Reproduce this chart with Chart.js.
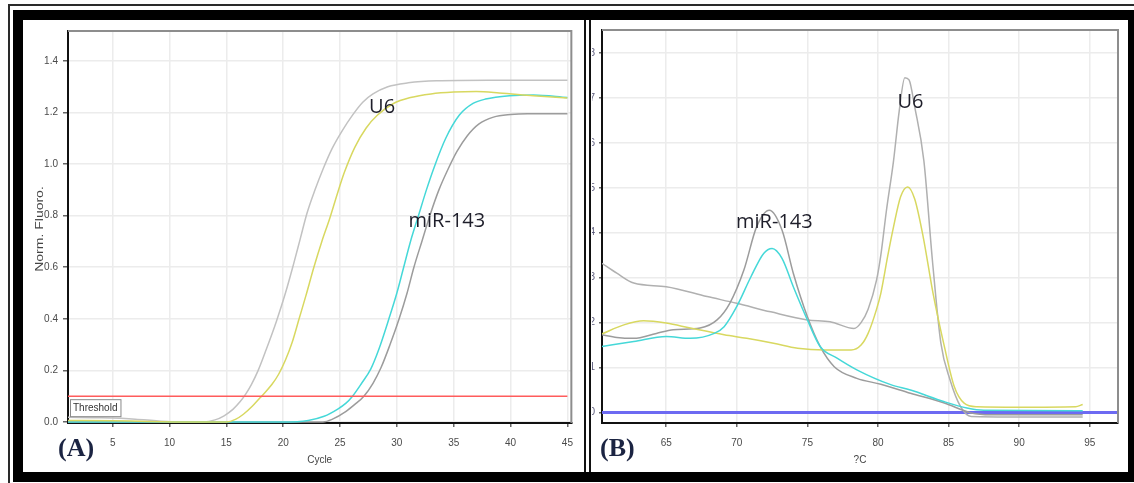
<!DOCTYPE html>
<html>
<head>
<meta charset="utf-8">
<script src="https://cdn.jsdelivr.net/npm/chart.js@4.4.1/dist/chart.umd.min.js"></script>
<style>
    body { margin: 0; background: #fff; width: 1134px; height: 483px; overflow: hidden; position: relative; font-family: "Liberation Sans", sans-serif; }
    .frame-thin { position: absolute; left: 8px; top: 4px; width: 1140px; height: 490px; border: 2px solid #2a2a2a; box-sizing: border-box; }
    .frame-thick { position: absolute; left: 13px; top: 10px; width: 1125px; height: 472px; border: 10px solid #000; box-sizing: border-box; }
    .sep { position: absolute; top: 20px; height: 452px; width: 2px; background: #111; }
    canvas { position: absolute; top: 20px; }
    .panel-tag { position: absolute; top: 433px; font: bold 26px "Liberation Serif", serif; color: #1b2442; }
</style>
</head>
<body>
<div class="frame-thin"></div>
<div class="frame-thick"></div>
<div class="sep" style="left:584px"></div>
<div class="sep" style="left:589px"></div>
<canvas id="ampChart" width="559" height="451" style="left:24px"></canvas>
<canvas id="meltChart" width="535" height="451" style="left:592px"></canvas>
<div class="panel-tag" style="left:58px">(A)</div>
<div class="panel-tag" style="left:600px">(B)</div>
<script>
// (A) amplification curves - cycle vs normalised fluorescence
const cycleTicks = [5, 10, 15, 20, 25, 30, 35, 40, 45];
const fluoroTicks = [0, 0.2, 0.4, 0.6, 0.8, 1.0, 1.2, 1.4];

const u6GrayCycle = [1, 4, 7, 9, 11, 13.0, 14.0, 14.8, 15.6, 16.2, 16.7, 17.2, 17.8, 18.5, 19.4, 20.2, 20.9, 21.5, 22.1, 22.8, 23.5, 24.3, 25.2, 26.1, 27.0, 27.9, 29.2, 31, 33.5, 38, 45];
const u6GrayFluoro = [0.018, 0.016, 0.011, 0.004, 0.0, 0.0, 0.008, 0.024, 0.05, 0.078, 0.108, 0.145, 0.2, 0.28, 0.39, 0.5, 0.61, 0.71, 0.81, 0.9, 0.98, 1.06, 1.13, 1.19, 1.24, 1.272, 1.3, 1.315, 1.323, 1.325, 1.325];

const u6YellowCycle = [1, 5, 8, 12, 15.0, 15.8, 16.5, 17.3, 18.1, 19.0, 19.6, 20.2, 20.8, 21.4, 22.0, 22.7, 23.4, 24.1, 24.8, 25.4, 26.3, 27.3, 28.3, 29.7, 31.2, 33, 35, 37, 39, 42, 45];
const u6YellowFluoro = [0.006, 0.005, 0.002, 0.0, 0.0, 0.01, 0.03, 0.062, 0.1, 0.145, 0.185, 0.24, 0.31, 0.4, 0.49, 0.6, 0.7, 0.79, 0.89, 0.97, 1.065, 1.14, 1.19, 1.235, 1.258, 1.272, 1.279, 1.281, 1.276, 1.265, 1.256];

const mirCyanCycle = [1, 10, 20, 22.2, 23.6, 24.8, 25.5, 26.1, 26.9, 27.7, 28.4, 29.3, 30.0, 30.6, 31.2, 31.9, 32.6, 33.3, 34.3, 35.5, 36.7, 37.8, 39.9, 42, 45];
const mirCyanFluoro = [0.0, 0.0, 0.0, 0.006, 0.022, 0.05, 0.072, 0.1, 0.15, 0.205, 0.28, 0.4, 0.5, 0.6, 0.7, 0.8, 0.9, 0.99, 1.1, 1.19, 1.235, 1.252, 1.265, 1.268, 1.258];

const mirGrayCycle = [1, 20, 23.5, 24.3, 25.5, 26.3, 27.1, 27.9, 28.6, 29.4, 30.2, 30.9, 31.5, 32.2, 32.9, 33.7, 34.5, 35.3, 36.2, 37.2, 38.5, 40, 41.5, 45];
const mirGrayFluoro = [0.0, 0.0, 0.0, 0.01, 0.04, 0.068, 0.1, 0.15, 0.21, 0.3, 0.4, 0.5, 0.6, 0.7, 0.8, 0.9, 0.98, 1.05, 1.11, 1.155, 1.182, 1.192, 1.195, 1.195];

const thresholdCycle = [1, 45];
const thresholdValue = 0.1;

// (B) melt curves - temperature vs -dF/dT
const tempTicks = [65, 70, 75, 80, 85, 90, 95];
const meltTicks = [0, 1, 2, 3, 4, 5, 6, 7, 8];

const u6GrayTemp = [60.45, 61.5, 62.7, 65.0, 67.9, 70.0, 72.4, 75.0, 76.6, 78.3, 78.8, 79.3, 79.9, 80.2, 80.6, 81.1, 81.5, 81.9, 82.2, 82.6, 83.25, 83.85, 84.45, 85.1, 85.85, 86.6, 90, 94.5];
const u6GrayMelt = [3.32, 3.1, 2.88, 2.80, 2.58, 2.43, 2.24, 2.06, 2.02, 1.87, 2.0, 2.3, 2.95, 3.5, 4.5, 5.6, 6.7, 7.45, 7.4, 6.8, 5.6, 3.4, 1.55, 0.73, 0.13, -0.09, -0.1, -0.1];

const mirGrayTemp = [60.45, 61.5, 62.7, 64.3, 65.5, 67.4, 68.6, 69.5, 70.5, 71.4, 72.3, 73.2, 74.0, 75.0, 75.9, 76.9, 78.5, 80.2, 82.3, 84.7, 86.6, 88, 94.5];
const mirGrayMelt = [1.73, 1.67, 1.65, 1.76, 1.84, 1.88, 2.06, 2.43, 3.17, 4.13, 4.50, 4.06, 3.10, 2.13, 1.47, 1.02, 0.76, 0.63, 0.43, 0.21, -0.01, -0.05, -0.05];

const mirCyanTemp = [60.45, 62.7, 65.0, 66.7, 68.4, 69.1, 70.0, 71.0, 71.9, 72.5, 73.2, 74.0, 75.0, 75.9, 77.1, 78.5, 80.9, 82.3, 84.7, 86.3, 87.5, 94.5];
const mirCyanMelt = [1.47, 1.58, 1.69, 1.65, 1.76, 1.91, 2.36, 3.02, 3.54, 3.65, 3.43, 2.80, 2.06, 1.47, 1.21, 0.95, 0.62, 0.50, 0.24, 0.10, 0.05, 0.04];

const u6YellowTemp = [60.45, 62.0, 63.4, 65.0, 66.7, 69.1, 70.7, 72.6, 74.3, 76.2, 78.1, 78.8, 79.3, 79.9, 80.2, 80.7, 81.1, 81.6, 82.1, 82.6, 83.2, 83.9, 84.7, 85.4, 86.1, 87.0, 90, 94.0, 94.5];
const u6YellowMelt = [1.75, 1.95, 2.04, 1.99, 1.88, 1.73, 1.65, 1.54, 1.43, 1.39, 1.39, 1.5, 1.76, 2.3, 2.65, 3.5, 4.13, 4.8, 5.02, 4.75, 3.91, 2.65, 1.47, 0.58, 0.21, 0.13, 0.12, 0.13, 0.18];

const baselineTemp = [60, 97];
const baselineMelt = [0, 0];

// 텍스트 라벨 (데이터 좌표)
const ampLabels = [
    { text: 'U6', x: 28.7, y: 1.222 },
    { text: 'miR-143', x: 34.4, y: 0.779 },
];
const meltLabels = [
    { text: 'miR-143', x: 72.66, y: 4.24 },
    { text: 'U6', x: 82.3, y: 6.9 },
];

const toPoints = (xs, ys) => xs.map((x, i) => ({ x, y: ys[i] }));

function curve(xs, ys, color, width = 1.5) {
    return {
        data: toPoints(xs, ys),
        borderColor: color,
        borderWidth: width,
        pointRadius: 0,
        showLine: true,
        cubicInterpolationMode: 'monotone',
    };
}

// 플롯 위/오른쪽 테두리, y축 제목, 유전자 라벨, Threshold 박스
const panelTextPlugin = {
    id: 'panelText',
    afterDatasetsDraw(chart, args, opts) {
        const { ctx, chartArea: a, scales: { x, y } } = chart;
        ctx.save();
        ctx.strokeStyle = '#8d8d8d';
        ctx.lineWidth = 2;
        ctx.beginPath();
        ctx.moveTo(a.left, a.top);
        ctx.lineTo(a.right, a.top);
        ctx.lineTo(a.right, a.bottom);
        ctx.stroke();

        // 세로로 늘어난 y축 제목
        if (opts.yTitle) {
            ctx.save();
            ctx.translate(16, (a.top + a.bottom) / 2 + 2);
            ctx.rotate(-Math.PI / 2);
            ctx.scale(1.4, 1);
            ctx.font = '10px "Liberation Sans"';
            ctx.fillStyle = '#444';
            ctx.textAlign = 'center';
            ctx.textBaseline = 'middle';
            ctx.fillText(opts.yTitle, 0, 0);
            ctx.restore();
        }

        ctx.font = '20px "Open Sans"';
        ctx.fillStyle = '#1e1e2a';
        ctx.textAlign = 'center';
        ctx.textBaseline = 'middle';
        (opts.labels || []).forEach((l) => {
            ctx.fillText(l.text, x.getPixelForValue(l.x), y.getPixelForValue(l.y));
        });

        if (opts.threshold != null) {
            const ty = y.getPixelForValue(opts.threshold);
            ctx.font = '10px "Liberation Sans"';
            const w = ctx.measureText('Threshold').width + 6;
            ctx.fillStyle = '#fff';
            ctx.fillRect(a.left + 2, ty + 3, w, 17);
            ctx.strokeStyle = '#8a8a8a';
            ctx.lineWidth = 1;
            ctx.strokeRect(a.left + 2.5, ty + 3.5, w, 17);
            ctx.fillStyle = '#333';
            ctx.textAlign = 'left';
            ctx.fillText('Threshold', a.left + 5, ty + 12);
        }
        ctx.restore();
    },
};

function axisX(min, max, ticks, title) {
    return {
        type: 'linear',
        min, max,
        afterFit: (s) => { s.height = 48; },
        afterBuildTicks: (s) => { s.ticks = ticks.map((v) => ({ value: v })); },
        grid: { color: '#ececec', lineWidth: 1.5, tickLength: 4, tickColor: '#666' },
        border: { color: '#111', width: 2 },
        ticks: { padding: 10, color: '#4a4a4a', font: { size: 10, family: 'Liberation Sans' }, maxRotation: 0 },
        title: { display: true, text: title, color: '#444', font: { size: 10, family: 'Liberation Sans' }, padding: { top: 0, bottom: 5 } },
    };
}

const baseOptions = {
    responsive: false,
    animation: false,
    devicePixelRatio: 1,
    plugins: { legend: { display: false }, tooltip: { enabled: false } },
};

// 1. Amplification chart
new Chart(document.getElementById('ampChart'), {
    type: 'scatter',
    data: {
        datasets: [
            curve(thresholdCycle, thresholdCycle.map(() => thresholdValue), '#ff5c5c'),
            curve(u6YellowCycle, u6YellowFluoro, '#d8d860'),
            curve(mirCyanCycle, mirCyanFluoro, '#45d8d8'),
            curve(u6GrayCycle, u6GrayFluoro, '#c2c2c2'),
            curve(mirGrayCycle, mirGrayFluoro, '#9c9c9c'),
        ],
    },
    options: {
        ...baseOptions,
        layout: { padding: { left: 0, top: 9, right: 8, bottom: 0 } },
        plugins: { ...baseOptions.plugins, panelText: { labels: ampLabels, threshold: thresholdValue, yTitle: 'Norm. Fluoro.' } },
        scales: {
            x: axisX(1.07, 45.35, cycleTicks, 'Cycle'),
            y: {
                type: 'linear',
                min: -0.004, max: 1.516,
                afterFit: (s) => { s.width = 44; },
                afterBuildTicks: (s) => { s.ticks = fluoroTicks.map((v) => ({ value: v })); },
                grid: { color: '#ececec', lineWidth: 1.5, tickLength: 5, tickColor: '#666' },
                border: { color: '#111', width: 2 },
                ticks: { padding: 5, color: '#4a4a4a', font: { size: 10, family: 'Liberation Sans' }, callback: (v) => v.toFixed(1) },
            },
        },
    },
    plugins: [panelTextPlugin],
});

// 2. Melt curve chart
new Chart(document.getElementById('meltChart'), {
    type: 'scatter',
    data: {
        datasets: [
            curve(mirCyanTemp, mirCyanMelt, '#45d8d8'),
            curve(u6YellowTemp, u6YellowMelt, '#d8d860'),
            curve(mirGrayTemp, mirGrayMelt, '#9c9c9c'),
            curve(u6GrayTemp, u6GrayMelt, '#b0b0b0'),
            curve(baselineTemp, baselineMelt, '#6d6af2', 3),
        ],
    },
    options: {
        ...baseOptions,
        layout: { padding: { left: 0, top: 9, right: 9, bottom: 0 } },
        plugins: { ...baseOptions.plugins, panelText: { labels: meltLabels } },
        scales: {
            x: axisX(60.45, 97, tempTicks, '?C'),
            y: {
                type: 'linear',
                min: -0.233, max: 8.51,
                afterFit: (s) => { s.width = 10; },
                afterBuildTicks: (s) => { s.ticks = meltTicks.map((v) => ({ value: v })); },
                grid: { color: '#ececec', lineWidth: 1.5, tickLength: 3, tickColor: '#666' },
                border: { color: '#111', width: 2 },
                ticks: { padding: 4, color: '#5a5a7a', font: { size: 10, family: 'Liberation Sans' } },
            },
        },
    },
    plugins: [panelTextPlugin],
});
</script>
</body>
</html>
